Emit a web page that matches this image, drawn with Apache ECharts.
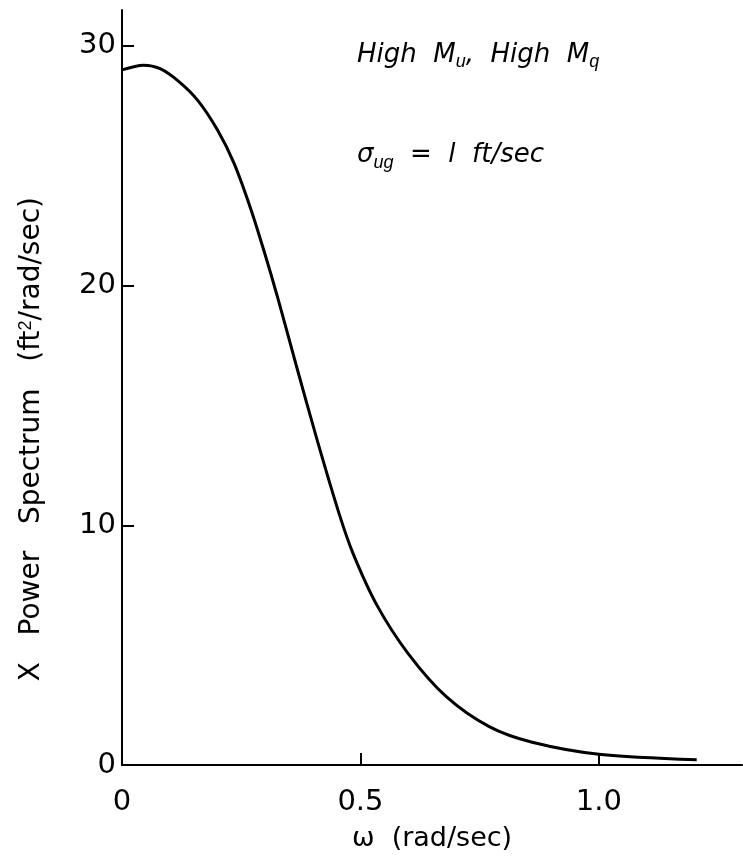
<!DOCTYPE html>
<html style="height: 100%">
<head>
	<meta charset="utf-8">
	<title></title>
	<script type="text/javascript" src="https://cdn.jsdelivr.net/npm/echarts@6/dist/echarts.min.js"></script>
</head>
<body style="height: 100%; margin: 0; background: #fff">
<div id="container" style="width: 743px; height: 857px"></div>
<script type="text/javascript">
	// omega (rad/sec) vs X power spectrum (ft^2/rad/sec)
	var omega = [0, 0.045, 0.08, 0.12, 0.16, 0.20, 0.235, 0.27, 0.30, 0.325, 0.365, 0.41, 0.455, 0.485, 0.535, 0.60, 0.68, 0.77, 0.86, 1.0, 1.205];
	var power = [29.0, 29.2, 29.05, 28.5, 27.7, 26.5, 25.1, 23.2, 21.3, 19.6, 16.7, 13.5, 10.5, 8.8, 6.65, 4.65, 2.85, 1.6, 0.95, 0.45, 0.22];
	var xTicks = [0, 0.5, 1.0];
	var yTicks = [0, 10, 20, 30];

	var font = 'DejaVu Sans';
	var dom = document.getElementById("container");
	var myChart = echarts.init(dom, null, {renderer: 'canvas'});

	var option = {
		backgroundColor: '#fff',
		animation: false,
		grid: {left: 122, right: 1, top: 10, bottom: 91},
		xAxis: {
			type: 'value',
			min: 0,
			max: 1.3,
			name: 'ω  (rad/sec)',
			nameLocation: 'middle',
			nameGap: 60,
			nameTextStyle: {color: '#000', fontFamily: font, fontSize: 27, verticalAlign: 'top'},
			axisLine: {lineStyle: {color: '#000', width: 2}},
			axisTick: {inside: true, length: 12, lineStyle: {color: '#000', width: 2}, customValues: xTicks},
			axisLabel: {
				color: '#000', fontFamily: font, fontSize: 29, margin: 23,
				customValues: xTicks,
				formatter: function (v) { return v === 0 ? '0' : v.toFixed(1); }
			},
			splitLine: {show: false}
		},
		yAxis: {
			type: 'value',
			min: 0,
			max: 31.5,
			axisLine: {show: true, lineStyle: {color: '#000', width: 2}},
			axisTick: {show: true, inside: true, length: 12, lineStyle: {color: '#000', width: 2}, customValues: yTicks},
			axisLabel: {color: '#000', fontFamily: font, fontSize: 29, margin: 6, customValues: yTicks},
			splitLine: {show: false}
		},
		graphic: [
			{
				type: 'text', left: 17, top: 197, rotation: Math.PI / 2,
				style: {
					text: 'X   Power   Spectrum   (ft{s|2}/rad/sec)',
					fill: '#000', font: '28px "DejaVu Sans"',
					rich: {s: {fontSize: 18, verticalAlign: 'top', padding: [0, 0, 12, 0]}}
				}
			},
			{
				type: 'text', left: 357, top: 42,
				style: {
					text: 'High  M{sub|u},  High  M{sub|q}',
					fill: '#000', font: 'italic 26px "DejaVu Sans"',
					rich: {sub: {fontSize: 18, fontStyle: 'italic', padding: [14, 0, 0, 0]}}
				}
			},
			{
				type: 'text', left: 357, top: 142,
				style: {
					text: 'σ{sub|ug}  =  l  ft/sec',
					fill: '#000', font: 'italic 26px "DejaVu Sans"',
					rich: {sub: {fontSize: 18, fontStyle: 'italic', padding: [16, 0, 0, 0]}}
				}
			}
		],
		series: [{
			type: 'line',
			data: omega.map(function (w, i) { return [w, power[i]]; }),
			smooth: 0.3,
			symbol: 'none',
			lineStyle: {color: '#000', width: 3}
		}]
	};
	myChart.setOption(option);
</script>
</body>
</html>
